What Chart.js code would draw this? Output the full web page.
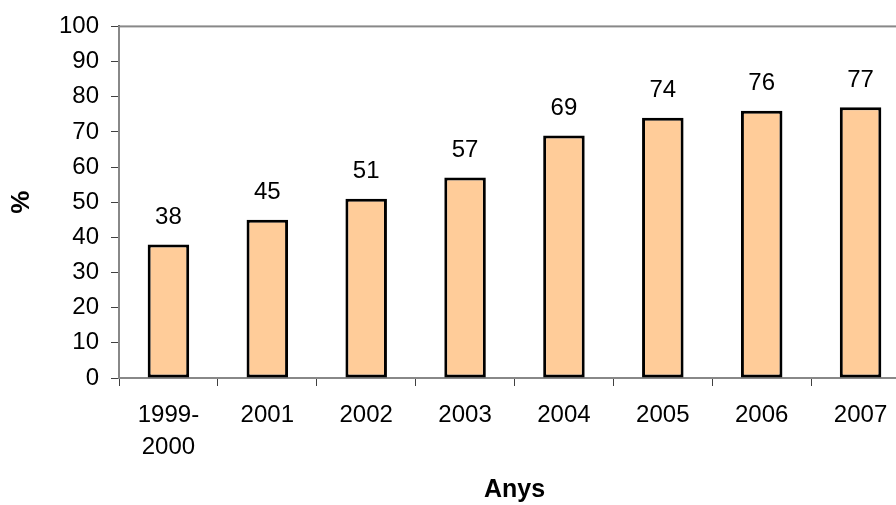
<!DOCTYPE html>
<html>
<head>
<meta charset="utf-8">
<script src="https://cdn.jsdelivr.net/npm/chart.js@4"></script>
<style>
  html, body { margin: 0; padding: 0; background: #fff; overflow: hidden; }
  #wrap { position: relative; width: 912px; height: 505px; }
</style>
</head>
<body>
<div id="wrap"><canvas id="myChart"></canvas></div>
<script>
const years = [['1999-', '2000'], '2001', '2002', '2003', '2004', '2005', '2006', '2007'];
const percent = [38, 45, 51, 57, 69, 74, 76, 77];
const yTicks = [0, 10, 20, 30, 40, 50, 60, 70, 80, 90, 100];

const fontFamily = 'Arial, "Liberation Sans", sans-serif';

// plot area frame (top grey line)
const frame = {
    id: 'frame',
    beforeDatasetsDraw(chart) {
        const a = chart.chartArea;
        const c = chart.ctx;
        c.save();
        c.strokeStyle = '#888888';
        c.lineWidth = 2;
        c.strokeRect(a.left, a.top, a.right - a.left, a.bottom - a.top);
        c.restore();
    }
};

// value above each bar
const barValues = {
    id: 'barValues',
    afterDatasetsDraw(chart) {
        const c = chart.ctx;
        const meta = chart.getDatasetMeta(0);
        c.save();
        c.font = '24px ' + fontFamily;
        c.fillStyle = '#000';
        c.textAlign = 'center';
        c.textBaseline = 'bottom';
        meta.data.forEach((bar, i) => {
            c.fillText(String(percent[i]), bar.x, bar.y - 15);
        });
        c.restore();
    }
};

const ctx = document.getElementById('myChart');
const myChart = new Chart(ctx, {
    type: 'bar',
    data: {
        labels: years,
        datasets: [{
            label: '%',
            data: percent,
            backgroundColor: '#FFCC99',
            borderColor: '#000000',
            borderWidth: 3,
            borderSkipped: false,
            barPercentage: 0.42,
            categoryPercentage: 1
        }]
    },
    options: {
        responsive: true,
        maintainAspectRatio: false,
        animation: false,
        layout: { padding: { top: 26, right: 2, left: 0, bottom: 0 } },
        plugins: {
            legend: { display: false },
            tooltip: { enabled: false }
        },
        scales: {
            x: {
                offset: true,
                grid: {
                    display: true,
                    drawOnChartArea: false,
                    drawTicks: true,
                    tickLength: 8,
                    color: '#404040',
                    offset: true
                },
                border: { display: true, color: '#404040', width: 2 },
                ticks: {
                    color: '#000',
                    font: { family: fontFamily, size: 24, lineHeight: 1.35 },
                    padding: 13,
                    maxRotation: 0,
                    autoSkip: false
                },
                title: {
                    display: true,
                    text: 'Anys',
                    color: '#000',
                    font: { family: fontFamily, size: 25, weight: 'bold' },
                    padding: { top: 0, bottom: 0 }
                },
                afterFit(scale) { scale.height = 127; }
            },
            y: {
                min: 0,
                max: 100,
                afterBuildTicks(scale) { scale.ticks = yTicks.map(v => ({ value: v })); },
                grid: {
                    display: true,
                    drawOnChartArea: false,
                    drawTicks: true,
                    tickLength: 8,
                    color: '#404040'
                },
                border: { display: true, color: '#404040', width: 2 },
                ticks: {
                    color: '#000',
                    font: { family: fontFamily, size: 24 },
                    padding: 12
                },
                title: {
                    display: true,
                    text: '%',
                    color: '#000',
                    font: { family: fontFamily, size: 26, weight: 'bold' },
                    padding: { top: 6, bottom: 0 }
                },
                afterFit(scale) { scale.width = 119; }
            }
        }
    },
    plugins: [frame, barValues]
});
</script>
</body>
</html>
